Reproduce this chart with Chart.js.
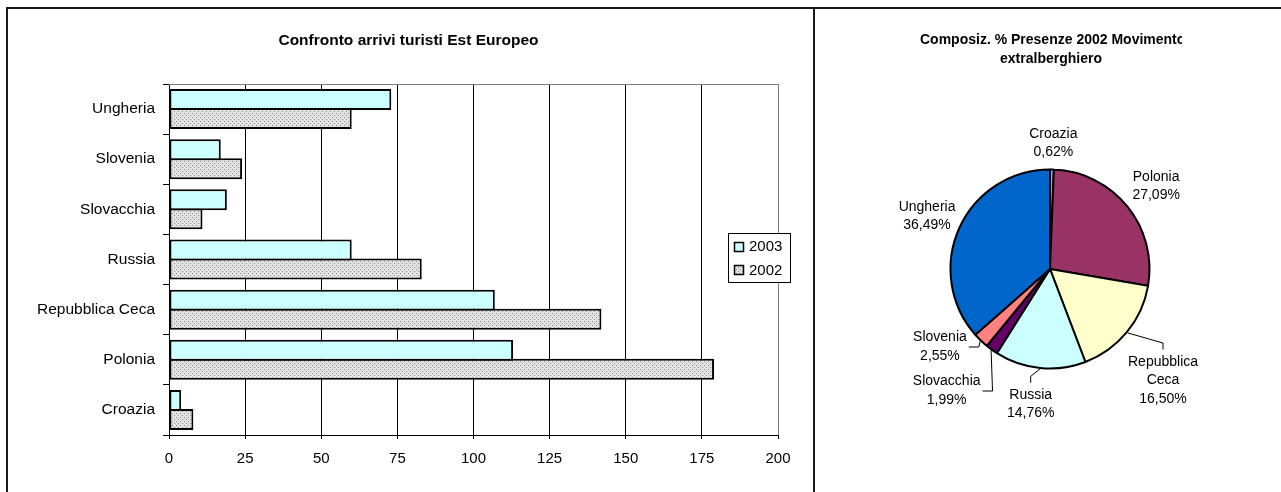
<!DOCTYPE html>
<html>
<head>
<meta charset="utf-8">
<script src="https://cdn.jsdelivr.net/npm/chart.js@4.4.1/dist/chart.umd.min.js"></script>
<style>
html,body{margin:0;padding:0;background:#fff;}
body{width:1281px;height:492px;position:relative;overflow:hidden;font-family:"Liberation Sans",Arial,sans-serif;color:#000;}
.rule{position:absolute;background:#1a1a1a;}
#frameTop{left:6px;top:7px;width:1275px;height:2px;}
#frameLeft{left:6px;top:7px;width:2px;height:485px;}
#frameSep{left:813px;top:7px;width:2px;height:485px;}
canvas{position:absolute;display:block;}
#barCanvas{left:8px;top:9px;}
#pieCanvas{left:815px;top:9px;}
.title{position:absolute;font-weight:bold;white-space:nowrap;overflow:hidden;}
#barTitle{left:6px;top:30px;width:805px;font-size:15.5px;line-height:20px;text-align:center;}
#pieTitle1{left:920px;top:30px;width:262px;font-size:14px;line-height:19px;text-align:left;}
#pieTitle2{left:920px;top:49px;width:262px;font-size:14px;line-height:19px;text-align:center;}
</style>
</head>
<body>
<div class="rule" id="frameTop"></div>
<div class="rule" id="frameLeft"></div>
<div class="rule" id="frameSep"></div>
<canvas id="barCanvas" width="805" height="483"></canvas>
<canvas id="pieCanvas" width="466" height="483"></canvas>
<div class="title" id="barTitle">Confronto arrivi turisti Est Europeo</div>
<div class="title" id="pieTitle1">Composiz. % Presenze 2002 Movimento</div>
<div class="title" id="pieTitle2">extralberghiero</div>
<script>
// ---------- DATA ----------
const barCategories = ['Ungheria', 'Slovenia', 'Slovacchia', 'Russia', 'Repubblica Ceca', 'Polonia', 'Croazia'];
const seriesNames = ['2003', '2002'];
const arrivi2003 = [73, 17, 19, 60, 107, 113, 4];
const arrivi2002 = [60, 24, 11, 83, 142, 179, 8];
const xAxisMin = 0;
const xAxisMax = 200;
const xAxisStep = 25;

const pieCategories = ['Croazia', 'Polonia', 'Repubblica Ceca', 'Russia', 'Slovacchia', 'Slovenia', 'Ungheria'];
const piePercent = [0.62, 27.09, 16.50, 14.76, 1.99, 2.55, 36.49];

// ---------- STYLE / LAYOUT ----------
const FONT = '"Liberation Sans", Arial, sans-serif';
Chart.defaults.font.family = FONT;
Chart.defaults.color = '#000';

const pieColors = ['#9999FF', '#993366', '#FFFFCC', '#CCFFFF', '#660066', '#FF8080', '#0066CC'];
// label placement: radial distance from centre, angle tweak (deg), wrap name, leader type
const pieLabelLayout = [
  {r: 126, da: 0.4, wrap: false, leader: null},
  {r: 134.7, da: 1.0, wrap: false, leader: null},
  {r: 158.6, da: 5.1, wrap: true, leader: 'top'},
  {r: 136.7, da: 2.4, wrap: false, leader: 'top'},
  {r: 159.5, da: 4.5, wrap: false, leader: 'right'},
  {r: 134.6, da: 10.8, wrap: false, leader: 'right'},
  {r: 133.9, da: -1.0, wrap: false, leader: null}
];

function fmtPct(v) { return v.toFixed(2).replace('.', ',') + '%'; }

// ---------- BAR CHART ----------
const barCanvas = document.getElementById('barCanvas');
const barCtx = barCanvas.getContext('2d');

function dotPattern(ctx) {
  const c = document.createElement('canvas');
  c.width = 4; c.height = 4;
  const g = c.getContext('2d');
  g.fillStyle = '#e2e2e2'; g.fillRect(0, 0, 4, 4);
  g.fillStyle = '#8e8e8e';
  g.fillRect(0, 0, 1, 1); g.fillRect(2, 2, 1, 1);
  return ctx.createPattern(c, 'repeat');
}

const plotFrame = {
  id: 'plotFrame',
  beforeDatasetsDraw(chart) {
    const {ctx, chartArea: a} = chart;
    ctx.save();
    ctx.strokeStyle = '#808080';
    ctx.lineWidth = 1;
    ctx.beginPath();
    ctx.moveTo(a.left, Math.round(a.top) + 0.5);
    ctx.lineTo(a.right + 0.5, Math.round(a.top) + 0.5);
    ctx.stroke();
    ctx.restore();
  }
};

const boxLegend = {
  id: 'boxLegend',
  afterDatasetsDraw(chart) {
    const {ctx, chartArea: a} = chart;
    const ds = chart.data.datasets;
    ctx.save();
    ctx.font = '15px ' + FONT;
    const rowH = 23.6;
    const textW = Math.max(...ds.map(d => ctx.measureText(d.label).width));
    const w = Math.round(6 + 10 + 5 + textW + 8);
    const h = Math.round(ds.length * rowH + 2);
    const x = Math.round(a.right - 50);
    const y = Math.round((a.top + a.bottom) / 2 - 27);
    ctx.fillStyle = '#fff';
    ctx.fillRect(x, y, w, h);
    ctx.strokeStyle = '#000';
    ctx.lineWidth = 1;
    ctx.strokeRect(x + 0.5, y + 0.5, w, h);
    ds.forEach((d, i) => {
      const cy = y + 13.5 + i * rowH;
      ctx.fillStyle = d.backgroundColor;
      ctx.fillRect(x + 6, Math.round(cy - 5), 10, 10);
      ctx.lineWidth = 1.5;
      ctx.strokeRect(x + 6.5, Math.round(cy - 5) + 0.5, 9, 9);
      ctx.fillStyle = '#000';
      ctx.textBaseline = 'middle';
      ctx.textAlign = 'left';
      ctx.fillText(d.label, x + 21, cy + 0.5);
    });
    ctx.restore();
  }
};

new Chart(barCtx, {
  type: 'bar',
  data: {
    labels: barCategories,
    datasets: [
      {label: seriesNames[0], data: arrivi2003, backgroundColor: '#CCFFFF', borderColor: '#000', borderWidth: 2, borderSkipped: false},
      {label: seriesNames[1], data: arrivi2002, backgroundColor: dotPattern(barCtx), borderColor: '#000', borderWidth: 2, borderSkipped: false}
    ]
  },
  options: {
    indexAxis: 'y',
    responsive: false,
    animation: false,
    events: [],
    categoryPercentage: 0.76,
    barPercentage: 1.1,
    layout: {padding: {top: 75, right: 35, left: 0, bottom: 0}},
    plugins: {legend: {display: false}, tooltip: {enabled: false}, title: {display: false}},
    scales: {
      x: {
        type: 'linear',
        min: xAxisMin,
        max: xAxisMax,
        ticks: {stepSize: xAxisStep, color: '#000', font: {size: 15}, padding: 11, maxRotation: 0},
        grid: {
          color: c => (c.tick && c.tick.value === xAxisMax) ? '#808080' : '#000',
          tickColor: '#000',
          tickLength: 4,
          lineWidth: 1
        },
        border: {color: '#000', width: 1},
        afterFit(scale) { scale.height = 57; }
      },
      y: {
        ticks: {color: '#000', font: {size: 15.5}, padding: 8},
        grid: {drawOnChartArea: false, color: '#000', tickColor: '#000', tickLength: 6, offset: true},
        border: {color: '#000', width: 1},
        afterFit(scale) { scale.width = 161; }
      }
    }
  },
  plugins: [plotFrame, boxLegend]
});

// ---------- PIE CHART ----------
const pieLabels = {
  id: 'pieLabels',
  afterDatasetsDraw(chart) {
    const {ctx} = chart;
    const meta = chart.getDatasetMeta(0);
    const LH = 18.5;
    ctx.save();
    ctx.font = '14px ' + FONT;
    ctx.textAlign = 'center';
    ctx.textBaseline = 'middle';
    ctx.fillStyle = '#000';
    ctx.strokeStyle = '#000';
    ctx.lineWidth = 1;
    meta.data.forEach((arc, i) => {
      const p = arc.getProps(['x', 'y', 'startAngle', 'endAngle', 'outerRadius'], true);
      const mid = (p.startAngle + p.endAngle) / 2;
      const lay = pieLabelLayout[i];
      const ang = mid + lay.da * Math.PI / 180;
      const cx = p.x + Math.cos(ang) * lay.r;
      const cy = p.y + Math.sin(ang) * lay.r;
      const nameLines = lay.wrap ? pieCategories[i].split(' ') : [pieCategories[i]];
      const lines = nameLines.concat([fmtPct(piePercent[i])]);
      const top = cy - lines.length * LH / 2;
      lines.forEach((t, k) => ctx.fillText(t, cx, top + LH * (k + 0.5)));
      if (lay.leader) {
        const sx = p.x + Math.cos(mid) * (p.outerRadius + 1);
        const sy = p.y + Math.sin(mid) * (p.outerRadius + 1);
        let bx, by, ex, ey;
        if (lay.leader === 'top') {
          ex = cx; ey = top - 3;
          bx = cx; by = top - 9.5;
        } else {
          const maxW = Math.max(...lines.map(t => ctx.measureText(t).width));
          ex = cx + maxW / 2 + 2; ey = cy + 0.5;
          bx = ex + 10; by = ey;
        }
        ctx.beginPath();
        ctx.moveTo(sx, sy);
        ctx.lineTo(bx, by);
        ctx.lineTo(ex, ey);
        ctx.stroke();
      }
    });
    ctx.restore();
  }
};

new Chart(document.getElementById('pieCanvas').getContext('2d'), {
  type: 'pie',
  data: {
    labels: pieCategories,
    datasets: [{
      data: piePercent,
      backgroundColor: pieColors,
      borderColor: '#000',
      borderWidth: 2,
      radius: 99.5
    }]
  },
  options: {
    responsive: false,
    animation: false,
    events: [],
    radius: 99.5,
    layout: {padding: {left: 135, right: 131, top: 160, bottom: 123}},
    plugins: {legend: {display: false}, tooltip: {enabled: false}, title: {display: false}}
  },
  plugins: [pieLabels]
});
</script>
</body>
</html>
